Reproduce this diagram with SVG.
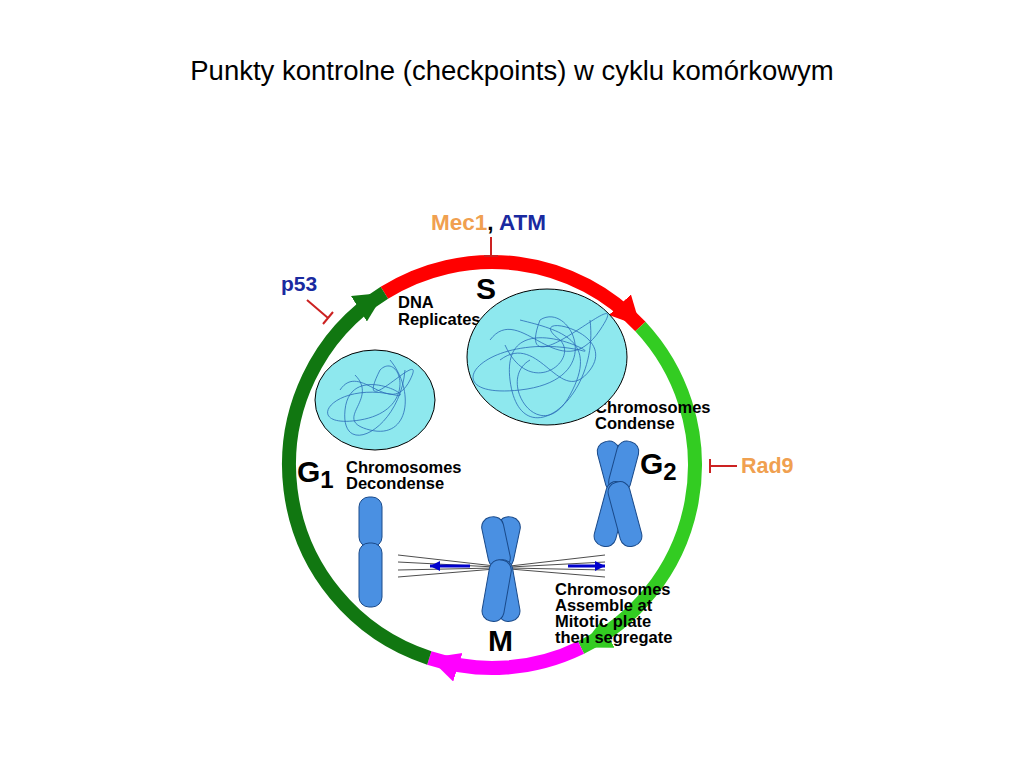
<svg xmlns="http://www.w3.org/2000/svg" width="1024" height="768" viewBox="0 0 1024 768">
<style>
.b{font-family:"Liberation Sans",Arial,sans-serif;font-weight:bold}
.l{font-family:"Liberation Sans",Arial,sans-serif;font-weight:bold;font-size:16.5px;fill:#000}
.arc{fill:none;stroke-width:14}
.ch{fill:#4a90e2;stroke:#1a4a8a;stroke-width:1}
.sc{fill:none;stroke:#2a6ab8;stroke-width:0.8}
.sp{stroke:#000;stroke-width:0.7}
</style>
<defs>
<marker id="aR" markerUnits="userSpaceOnUse" markerWidth="40" markerHeight="40" refX="30" refY="15" orient="auto"><path d="M0,0 L30,15 L0,30 Z" fill="#ff0000"/></marker>
<marker id="aG" markerUnits="userSpaceOnUse" markerWidth="40" markerHeight="40" refX="30" refY="15" orient="auto"><path d="M0,0 L30,15 L0,30 Z" fill="#33cc22"/></marker>
<marker id="aM" markerUnits="userSpaceOnUse" markerWidth="40" markerHeight="40" refX="30" refY="15" orient="auto"><path d="M0,0 L30,15 L0,30 Z" fill="#ff00ff"/></marker>
<marker id="aD" markerUnits="userSpaceOnUse" markerWidth="40" markerHeight="40" refX="30" refY="15" orient="auto"><path d="M0,0 L30,15 L0,30 Z" fill="#117711"/></marker>
<marker id="bl" markerUnits="userSpaceOnUse" markerWidth="12" markerHeight="10" refX="10" refY="5" orient="auto"><path d="M0,0 L10,5 L0,10 Z" fill="#0000cc"/></marker>
</defs>
<text x="512" y="80" text-anchor="middle" font-family="Liberation Sans,Arial,sans-serif" font-size="27.5">Punkty kontrolne (checkpoints) w cyklu komórkowym</text>
<g id="connectors">
<path class="arc" stroke="#ff0000" d="M384.4,292.8 A203,203 0 0 1 640.4,326.6" marker-end="url(#aR)"/>
<path class="arc" stroke="#33cc22" d="M640.4,326.6 A203,203 0 0 1 581,647.5" marker-end="url(#aG)"/>
<path class="arc" stroke="#ff00ff" d="M581,647.5 A203,203 0 0 1 429.3,658" marker-end="url(#aM)"/>
<path class="arc" stroke="#117711" d="M429.3,658 A203,203 0 0 1 384.4,292.8" marker-end="url(#aD)"/>
<path d="M491,237 V256 M484,256 H498" stroke="#cc2222" stroke-width="2" fill="none"/>
<path d="M307,300 L328,318 M323,324 L333,312" stroke="#cc2222" stroke-width="2" fill="none"/>
<path d="M737,466 H710 M710,459 V473" stroke="#cc2222" stroke-width="2" fill="none"/>
</g>
<g id="labels">
<text x="431" y="230" class="b" font-size="22.5" fill="#f0a050">Mec1<tspan fill="#000">,</tspan> <tspan fill="#1a2aa0">ATM</tspan></text>
<text x="281" y="291" class="b" font-size="21" fill="#1a2aa0">p53</text>
<text x="741" y="473" class="b" font-size="21.5" fill="#f0a050">Rad9</text>
<text x="476" y="299" class="b" font-size="30">S</text>
<text x="297" y="482" class="b" font-size="30">G<tspan font-size="24" dy="6">1</tspan></text>
<text x="640" y="474" class="b" font-size="30">G<tspan font-size="24" dy="6">2</tspan></text>
<text x="488" y="651" class="b" font-size="30">M</text>
<text class="l"><tspan x="398" y="308">DNA</tspan><tspan x="398" y="325">Replicates</tspan></text>
<text class="l"><tspan x="595" y="413">Chromosomes</tspan><tspan x="595" y="429">Condense</tspan></text>
<text class="l"><tspan x="346" y="473">Chromosomes</tspan><tspan x="346" y="489">Decondense</tspan></text>
<text class="l"><tspan x="555" y="595">Chromosomes</tspan><tspan x="555" y="611">Assemble at</tspan><tspan x="555" y="627">Mitotic plate</tspan><tspan x="555" y="643">then segregate</tspan></text>
</g>
<g id="nuclei">
<ellipse cx="375" cy="400" rx="60" ry="50" fill="#8ee8ee" stroke="#000" stroke-width="1"/>
<path class="sc" d="M340,390 C360,360 390,420 410,380 S350,430 380,370 C400,350 420,410 360,420 S330,380 395,395 C420,400 350,360 345,410 S400,430 405,370 M355,375 C380,400 330,420 370,430 S415,390 390,360"/>
<ellipse cx="547" cy="357" rx="80" ry="68" fill="#8ee8ee" stroke="#000" stroke-width="1"/>
<path class="sc" d="M490,340 C520,300 560,390 600,330 S510,400 540,320 C570,300 610,380 520,390 S480,330 580,350 C610,360 500,300 510,380 S600,400 590,320 M500,360 C540,330 560,410 590,370 S520,310 560,340 C580,360 530,400 505,345 M520,320 C560,330 600,340 570,395 S495,380 530,360"/>
</g>
<g id="chromosomes">
<rect class="ch" x="359" y="497" width="23" height="50" rx="10"/>
<rect class="ch" x="359" y="543" width="23" height="64" rx="10"/>
<g class="sp">
<line x1="398" y1="555" x2="495" y2="566"/><line x1="398" y1="562" x2="495" y2="567"/><line x1="398" y1="570" x2="495" y2="568"/><line x1="398" y1="577" x2="495" y2="569"/>
<line x1="605" y1="555" x2="510" y2="566"/><line x1="605" y1="562" x2="510" y2="567"/><line x1="605" y1="570" x2="510" y2="568"/><line x1="605" y1="577" x2="510" y2="569"/>
</g>
<line x1="470" y1="566" x2="430" y2="566" stroke="#0000cc" stroke-width="3" marker-end="url(#bl)"/>
<line x1="568" y1="566" x2="605" y2="566" stroke="#0000cc" stroke-width="3" marker-end="url(#bl)"/>
<g transform="translate(501,566)">
<rect class="ch" x="-11" y="-50" width="22" height="52" rx="10" transform="rotate(12)"/>
<rect class="ch" x="-11" y="-50" width="22" height="52" rx="10" transform="rotate(-12)"/>
<rect class="ch" x="-11" y="-6" width="22" height="62" rx="10" transform="rotate(-10)"/>
<rect class="ch" x="-11" y="-6" width="22" height="62" rx="10" transform="rotate(10)"/>
</g>
<g transform="translate(618,488)">
<rect class="ch" x="-11" y="-48" width="22" height="52" rx="10" transform="rotate(-15)"/>
<rect class="ch" x="-11" y="-48" width="22" height="52" rx="10" transform="rotate(15)"/>
<rect class="ch" x="-11" y="-6" width="22" height="66" rx="10" transform="rotate(15)"/>
<rect class="ch" x="-11" y="-6" width="22" height="66" rx="10" transform="rotate(-15)"/>
</g>
</g>
</svg>
